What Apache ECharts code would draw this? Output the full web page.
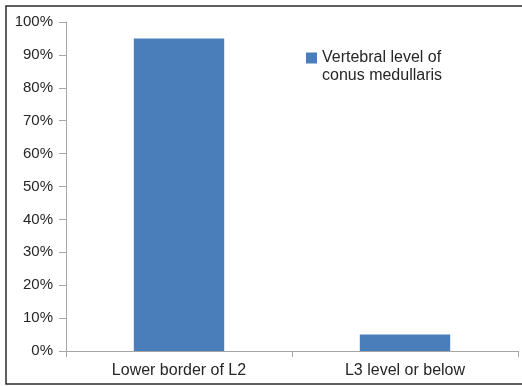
<!DOCTYPE html>
<html>
<head>
<meta charset="utf-8">
<script src="https://cdn.jsdelivr.net/npm/echarts@6/dist/echarts.min.js"></script>
<style>
  html, body { margin: 0; padding: 0; background: #fff; }
  #chart { width: 522px; height: 386px; }
</style>
</head>
<body>
<div id="chart"></div>
<script>
// Vertebral level of conus medullaris
const categories = ['Lower border of L2', 'L3 level or below'];
const seriesName = 'Vertebral level of\nconus medullaris';
const percentValues = [95, 5];
const yTickMax = 100;
const yTickStep = 10;

const chart = echarts.init(document.getElementById('chart'), null, { renderer: 'canvas' });
const font = '"Liberation Sans", Arial, sans-serif';
const axisGrey = '#a6a6a6';
const textColor = '#262626';

// legend marker: square sitting beside the first text line
const legendIcon = 'path://M0,0 L11,0 L11,11 L0,11 Z M0,29 L0.001,29 Z';

chart.setOption({
  animation: false,
  backgroundColor: '#ffffff',
  graphic: [{
    type: 'rect',
    shape: { x: 6, y: 6, width: 540, height: 378 },
    style: { fill: 'none', stroke: '#2b2b2b', lineWidth: 1.5 },
    silent: true
  }],
  grid: { left: 66, right: 4, top: 22, bottom: 35, containLabel: false },
  legend: {
    show: true,
    left: 306,
    top: 49,
    padding: 0,
    orient: 'vertical',
    itemWidth: 11,
    itemHeight: 29,
    itemGap: 6,
    icon: legendIcon,
    textStyle: { fontFamily: font, fontSize: 16, color: textColor, lineHeight: 18 },
    data: [seriesName]
  },
  xAxis: {
    type: 'category',
    data: categories,
    axisLine: { show: true, lineStyle: { color: axisGrey, width: 1 } },
    axisTick: { show: true, length: 6, lineStyle: { color: axisGrey } },
    axisLabel: { fontFamily: font, fontSize: 16, color: textColor, margin: 12 },
    splitLine: { show: false }
  },
  yAxis: {
    type: 'value',
    min: 0,
    max: yTickMax,
    interval: yTickStep,
    axisLine: { show: true, lineStyle: { color: axisGrey, width: 1 } },
    axisTick: { show: true, length: 7, lineStyle: { color: axisGrey } },
    axisLabel: { fontFamily: font, fontSize: 15, color: textColor, margin: 13, formatter: v => v + '%' },
    splitLine: { show: false }
  },
  series: [{
    name: seriesName,
    type: 'bar',
    data: percentValues,
    barCategoryGap: '60%',
    itemStyle: { color: '#4a7ebb' }
  }]
});
</script>
</body>
</html>
